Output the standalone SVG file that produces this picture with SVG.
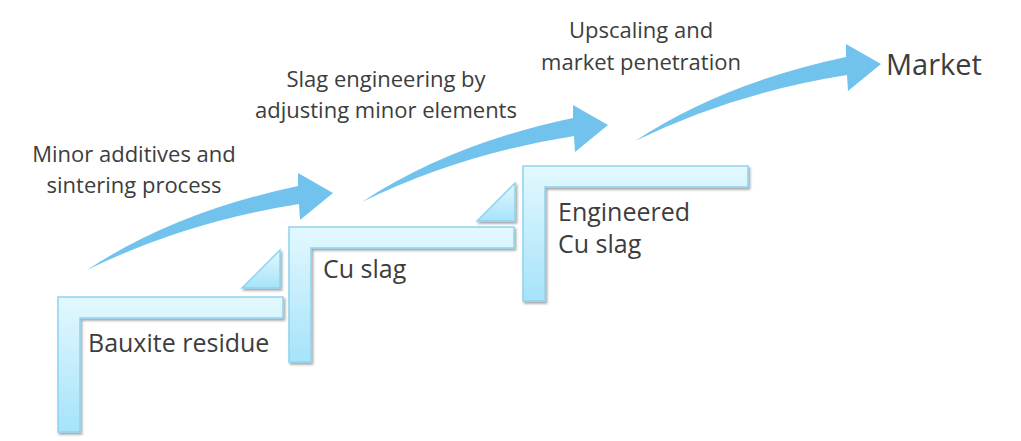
<svg xmlns="http://www.w3.org/2000/svg" width="1021" height="441" viewBox="0 0 1021 441">
<style>
.lbl{font-family:"Open Sans","Noto Sans","DejaVu Sans",sans-serif;fill:#3d3d3d}
.step{font-size:25px}
.note{font-size:22px;text-anchor:middle}
.mkt{font-size:29px}
.shape{fill:url(#grad);stroke:#8fd2f0;stroke-width:1.5;filter:url(#sh)}
.arrow{fill:#71c3ed}
</style>
<defs>
<linearGradient id="grad" x1="0" y1="0" x2="0" y2="1">
<stop offset="0" stop-color="#e3f8fe"/>
<stop offset="1" stop-color="#a6e3fa"/>
</linearGradient>
<filter id="sh" x="-10%" y="-10%" width="130%" height="130%">
<feDropShadow dx="1.5" dy="2" stdDeviation="1.2" flood-color="#000" flood-opacity="0.35"/>
</filter>
<path id="L" d="M0,0 H225 V21 H22 V135 H0 Z"/>
<path id="tri" d="M0,38 L38,0 L38,38 Z"/>
<path id="arr" d="M87,270 Q175,212 298,186 L298,173 L333,193 L300,220 L299,204 Q185,222 87,270 Z"/>
</defs>
<rect width="1021" height="441" fill="#fff"/>
<g id="connectors">
<use href="#arr" class="arrow"/>
<use href="#arr" class="arrow" transform="translate(275,-68)"/>
<use href="#arr" class="arrow" transform="translate(548,-129)"/>
</g>
<g id="node-bauxite">
<use href="#L" class="shape" transform="translate(58,297)"/>
<text class="lbl step" x="88" y="352">Bauxite residue</text>
</g>
<g id="tri-1"><use href="#tri" class="shape" transform="translate(242,250)"/></g>
<g id="node-cuslag">
<use href="#L" class="shape" transform="translate(289,227)"/>
<text class="lbl step" x="323" y="278">Cu slag</text>
</g>
<g id="tri-2"><use href="#tri" class="shape" transform="translate(477,183)"/></g>
<g id="node-engineered">
<use href="#L" class="shape" transform="translate(523,166)"/>
<text class="lbl step" x="558" y="221">Engineered</text>
<text class="lbl step" x="558" y="253">Cu slag</text>
</g>
<g id="node-market">
<text class="lbl mkt" x="886" y="75">Market</text>
</g>
<g id="label-1">
<text class="lbl note" x="134" y="162">Minor additives and</text>
<text class="lbl note" x="134" y="193">sintering process</text>
</g>
<g id="label-2">
<text class="lbl note" x="386" y="87">Slag engineering by</text>
<text class="lbl note" x="386" y="118">adjusting minor elements</text>
</g>
<g id="label-3">
<text class="lbl note" x="641" y="38">Upscaling and</text>
<text class="lbl note" x="641" y="70">market penetration</text>
</g>
</svg>
